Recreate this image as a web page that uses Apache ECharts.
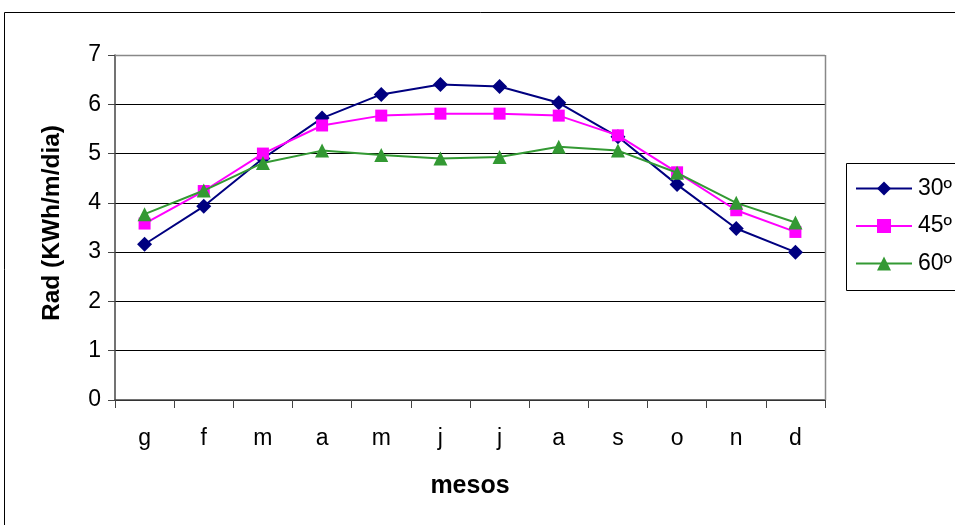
<!DOCTYPE html>
<html><head><meta charset="utf-8">
<script src="https://cdn.jsdelivr.net/npm/echarts@6/dist/echarts.min.js"></script>
<style>html,body{margin:0;padding:0;background:#fff}#c{width:955px;height:525px}</style>
</head><body><div id="c"></div>
<script>
const categories = ['g','f','m','a','m','j','j','a','s','o','n','d'];
const s30 = [3.16,3.93,4.90,5.72,6.20,6.40,6.36,6.03,5.34,4.37,3.48,3.00];
const s45 = [3.58,4.24,5.00,5.57,5.77,5.81,5.81,5.77,5.37,4.62,3.85,3.41];
const s60 = [3.77,4.25,4.81,5.06,4.97,4.90,4.93,5.14,5.06,4.61,4.00,3.60];
const yTicks = [0,1,2,3,4,5,6,7];
const seriesNames = ['30º','45º','60º'];

const chart = echarts.init(document.getElementById('c'), null, {renderer:'canvas'});
const font = 'Liberation Sans, Arial, sans-serif';
chart.setOption({
  animation:false,
  backgroundColor:'#fff',
  graphic:[
    {type:'rect', shape:{x:4.5,y:12.5,width:1000,height:600}, style:{fill:'none',stroke:'#000',lineWidth:1}, z:0},
    {type:'rect', shape:{x:846.5,y:163.5,width:150,height:127}, style:{fill:'#fff',stroke:'#000',lineWidth:1}, z:1},
    {type:'line', shape:{x1:115,y1:55.5,x2:825,y2:55.5}, style:{stroke:'#888',lineWidth:1.5}, z:5},
    {type:'line', shape:{x1:825.5,y1:55,x2:825.5,y2:400}, style:{stroke:'#888',lineWidth:1.5}, z:5}
  ],
  grid:{left:115, top:55, width:710, bottom:125, containLabel:false},
  legend:{
    orient:'vertical', left:855, top:177, itemWidth:56, itemHeight:17.5, itemGap:14.5, padding:0,
    data:seriesNames, z:10,
    textStyle:{fontFamily:font, fontSize:23, color:'#000', padding:[0,0,0,1]}
  },
  xAxis:{
    type:'category', data:categories, boundaryGap:true,
    name:'mesos', nameLocation:'middle', nameGap:74,
    nameTextStyle:{fontFamily:font, fontSize:25, fontWeight:'bold', color:'#000'},
    axisLine:{lineStyle:{color:'#444', width:1.5}},
    axisTick:{show:true, length:8, lineStyle:{color:'#444'}, alignWithLabel:false},
    axisLabel:{fontFamily:font, fontSize:23, color:'#000', margin:27}
  },
  yAxis:{
    type:'value', min:0, max:7, interval:1,
    name:'Rad (KWh/m/dia)', nameLocation:'middle', nameGap:50, nameRotate:90,
    nameTextStyle:{fontFamily:font, fontSize:24.5, fontWeight:'bold', color:'#000', padding:[0,0,0,9]},
    axisLine:{show:true, lineStyle:{color:'#444', width:1.5}},
    axisTick:{show:true, length:7, lineStyle:{color:'#444'}},
    axisLabel:{fontFamily:font, fontSize:23, color:'#000', margin:14},
    splitLine:{show:true, lineStyle:{color:'#000', width:1}}
  },
  series:[
    {name:seriesNames[0], type:'line', data:s30, symbol:'diamond', symbolSize:15,
     itemStyle:{color:'#000080'}, lineStyle:{color:'#000080', width:2}, z:3},
    {name:seriesNames[1], type:'line', data:s45, symbol:'rect', symbolSize:12,
     itemStyle:{color:'#ff00ff'}, lineStyle:{color:'#ff00ff', width:2}, z:4},
    {name:seriesNames[2], type:'line', data:s60, symbol:'triangle', symbolSize:14,
     itemStyle:{color:'#339933'}, lineStyle:{color:'#339933', width:2}, z:5}
  ]
});
</script>
</body></html>
